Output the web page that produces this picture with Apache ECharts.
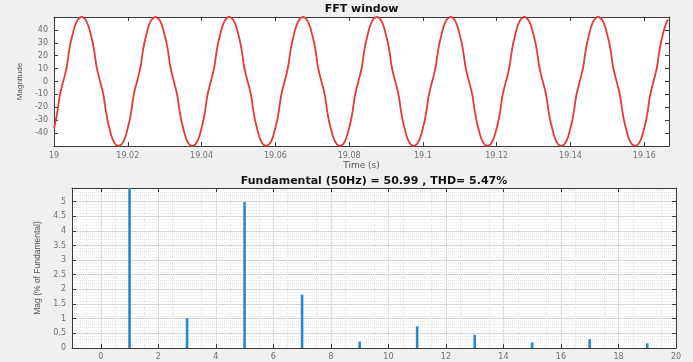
<!DOCTYPE html>
<html>
<head>
<meta charset="utf-8">
<script src="https://cdn.jsdelivr.net/npm/echarts@6/dist/echarts.min.js"></script>
<style>
html,body{margin:0;padding:0;background:#f0f0f0;}
#c{width:693px;height:362px;}
</style>
</head>
<body>
<div id="c"></div>
<script>
// ---- Top panel: sampled waveform (FFT window) ----
const timeStart = 19;        // s, first sample
const timeStep = 0.0005;     // s, sample spacing
const waveValues = [
  -36,-30,-22,-12,-5.5,0,5.5,12,22,30,36,41.5,45.5,48,49.5,50,49.5,48,45.5,41.5,36,30,22,12,5.5,0,-5.5,-12,-22,-30,-36,-41.5,-45.5,-48,-49.5,-50,-49.5,-48,-45.5,-41.5,
  -36,-30,-22,-12,-5.5,0,5.5,12,22,30,36,41.5,45.5,48,49.5,50,49.5,48,45.5,41.5,36,30,22,12,5.5,0,-5.5,-12,-22,-30,-36,-41.5,-45.5,-48,-49.5,-50,-49.5,-48,-45.5,-41.5,
  -36,-30,-22,-12,-5.5,0,5.5,12,22,30,36,41.5,45.5,48,49.5,50,49.5,48,45.5,41.5,36,30,22,12,5.5,0,-5.5,-12,-22,-30,-36,-41.5,-45.5,-48,-49.5,-50,-49.5,-48,-45.5,-41.5,
  -36,-30,-22,-12,-5.5,0,5.5,12,22,30,36,41.5,45.5,48,49.5,50,49.5,48,45.5,41.5,36,30,22,12,5.5,0,-5.5,-12,-22,-30,-36,-41.5,-45.5,-48,-49.5,-50,-49.5,-48,-45.5,-41.5,
  -36,-30,-22,-12,-5.5,0,5.5,12,22,30,36,41.5,45.5,48,49.5,50,49.5,48,45.5,41.5,36,30,22,12,5.5,0,-5.5,-12,-22,-30,-36,-41.5,-45.5,-48,-49.5,-50,-49.5,-48,-45.5,-41.5,
  -36,-30,-22,-12,-5.5,0,5.5,12,22,30,36,41.5,45.5,48,49.5,50,49.5,48,45.5,41.5,36,30,22,12,5.5,0,-5.5,-12,-22,-30,-36,-41.5,-45.5,-48,-49.5,-50,-49.5,-48,-45.5,-41.5,
  -36,-30,-22,-12,-5.5,0,5.5,12,22,30,36,41.5,45.5,48,49.5,50,49.5,48,45.5,41.5,36,30,22,12,5.5,0,-5.5,-12,-22,-30,-36,-41.5,-45.5,-48,-49.5,-50,-49.5,-48,-45.5,-41.5,
  -36,-30,-22,-12,-5.5,0,5.5,12,22,30,36,41.5,45.5,48,49.5,50,49.5,48,45.5,41.5,36,30,22,12,5.5,0,-5.5,-12,-22,-30,-36,-41.5,-45.5,-48,-49.5,-50,-49.5,-48,-45.5,-41.5,
  -36,-30,-22,-12,-5.5,0,5.5,12,22,30,36,41.5,45.5,48
];
const timeMin = 19, timeMax = 19.1667, timeInterval = 0.02;
const magMin = -50, magMax = 50, magInterval = 10;

// ---- Bottom panel: harmonic spectrum ----
const harmonicOrders = [1, 3, 5, 7, 9, 11, 13, 15, 17, 19];
const harmonicMags   = [100, 1.02, 4.98, 1.82, 0.22, 0.74, 0.45, 0.19, 0.3, 0.16];
const orderMin = -1, orderMax = 20, orderInterval = 2;
const orderTicks = [0, 2, 4, 6, 8, 10, 12, 14, 16, 18, 20];
const pctMin = 0, pctMax = 5.46, pctInterval = 0.5;

const topTitle = 'FFT window';
const bottomTitle = 'Fundamental (50Hz) = 50.99 , THD= 5.47%';

const FONT = 'DejaVu Sans, Liberation Sans, sans-serif';
const NFONT = 'Liberation Sans, Arial, sans-serif';
const AXC = '#3a3a3a';
const LBL = '#707070';
const MAJ = '#d4d4d4';
const MIN = '#e6e6e6';

function axis(opts, showLabels, extraLabel){
  return Object.assign({
    type: 'value',
    axisLine: {show: true, onZero: false, lineStyle: {color: AXC, width: 1}},
    axisTick: {show: true, inside: true, length: 4, lineStyle: {color: AXC}},
    axisLabel: Object.assign({show: showLabels, color: LBL, fontSize: 8, fontFamily: FONT, margin: 6,
      showMinLabel: false, showMaxLabel: false}, extraLabel || {}),
    splitLine: {show: false}
  }, opts);
}

const waveData = waveValues.map((v, i) => [timeStart + i * timeStep, v]);
const specData = harmonicOrders.map((h, i) => [h, harmonicMags[i]]);

const chart = echarts.init(document.getElementById('c'), null, {renderer: 'canvas'});
const fmt2 = v => String(+(+v).toFixed(2));

chart.setOption({
  backgroundColor: '#f0f0f0',
  animation: false,
  textStyle: {fontFamily: FONT},
  grid: [
    {left: 54, right: 24, top: 17, bottom: 216, show: true, backgroundColor: '#ffffff', borderWidth: 0},
    {left: 72, right: 17, top: 188, bottom: 14, show: true, backgroundColor: '#ffffff', borderWidth: 0}
  ],
  xAxis: [
    axis({gridIndex: 0, min: timeMin, max: timeMax, interval: timeInterval, position: 'bottom',
      name: 'Time (s)', nameLocation: 'middle', nameGap: 15,
      nameTextStyle: {color: '#555', fontSize: 9, fontFamily: FONT}}, true,
      {showMinLabel: true, formatter: fmt2}),
    axis({gridIndex: 0, min: timeMin, max: timeMax, interval: timeInterval, position: 'top'}, false),
    axis({gridIndex: 1, min: orderMin, max: orderMax, interval: orderInterval, position: 'bottom',
      axisTick: {show: true, inside: true, length: 4, lineStyle: {color: AXC}, customValues: orderTicks},
      splitLine: {show: true, lineStyle: {color: MAJ, width: 1}},
      minorTick: {show: false, splitNumber: 4},
      minorSplitLine: {show: true, lineStyle: {color: MIN, width: 1, type: 'dotted'}}}, true,
      {customValues: orderTicks, showMinLabel: true, showMaxLabel: true, margin: 5}),
    axis({gridIndex: 1, min: orderMin, max: orderMax, interval: orderInterval, position: 'top',
      axisTick: {show: true, inside: true, length: 4, lineStyle: {color: AXC}, customValues: orderTicks}}, false)
  ],
  yAxis: [
    axis({gridIndex: 0, min: magMin, max: magMax, interval: magInterval, position: 'left',
      name: 'Magnitude', nameLocation: 'middle', nameGap: 30,
      nameTextStyle: {color: '#555', fontSize: 8, fontFamily: NFONT}}, true),
    axis({gridIndex: 0, min: magMin, max: magMax, interval: magInterval, position: 'right'}, false),
    axis({gridIndex: 1, min: pctMin, max: pctMax, interval: pctInterval, position: 'left',
      name: 'Mag (% of Fundamental)', nameLocation: 'middle', nameGap: 26,
      nameTextStyle: {color: '#555', fontSize: 8.5, fontFamily: NFONT},
      splitLine: {show: true, lineStyle: {color: MAJ, width: 1}},
      minorTick: {show: false, splitNumber: 5},
      minorSplitLine: {show: true, lineStyle: {color: MIN, width: 1, type: 'dotted'}}}, true,
      {showMinLabel: true}),
    axis({gridIndex: 1, min: pctMin, max: pctMax, interval: pctInterval, position: 'right'}, false)
  ],
  graphic: [
    {type: 'text', x: 361.5, y: 9, style: {text: topTitle, fill: '#111', font: 'bold 11px ' + FONT, textAlign: 'center', textVerticalAlign: 'middle'}},
    {type: 'text', x: 374, y: 181, style: {text: bottomTitle, fill: '#111', font: 'bold 11px ' + FONT, textAlign: 'center', textVerticalAlign: 'middle'}}
  ],
  series: [
    {type: 'line', xAxisIndex: 0, yAxisIndex: 0, data: waveData, showSymbol: false, smooth: 0.3,
      lineStyle: {color: '#e33a3a', width: 1.8}, clip: true},
    {type: 'bar', xAxisIndex: 2, yAxisIndex: 2, data: specData, barWidth: 2.6,
      itemStyle: {color: '#2f87c9'}, clip: true}
  ]
});
</script>
</body>
</html>
